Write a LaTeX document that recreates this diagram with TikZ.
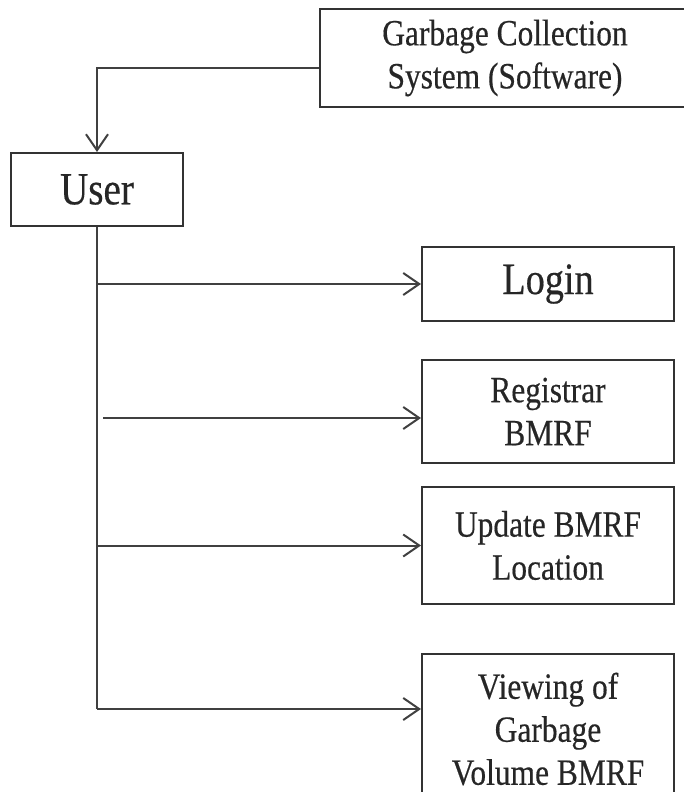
\documentclass[tikz,border=0pt]{standalone}
\usepackage{fontspec}
\setmainfont{Liberation Serif}[FakeStretch=0.85, FakeBold=0.4]
\usetikzlibrary{arrows.meta}
\tikzstyle{sysbox} = [rectangle, draw=black!80, line width=2pt,
minimum width=370pt, 
minimum height=98pt,
text centered, align=center, text=black!85,
font=\fontsize{37}{43}\selectfont]
\tikzstyle{userbox} = [rectangle, draw=black!80, line width=2pt,
minimum width=172pt, 
minimum height=73pt,
text=black!85,
font=\fontsize{46}{50}\selectfont]
\tikzstyle{taskbox} = [rectangle, draw=black!80, line width=2pt,
minimum width=252pt, 
text centered, align=center, text=black!85,
font=\fontsize{37}{43}\selectfont]
\tikzstyle{line} = [line width=2pt, draw=black!75]
\tikzstyle{arrow} = [line width=2pt, draw=black!75, -{Straight Barb[length=16pt,width=22pt]}]

\begin{document}
\begin{tikzpicture}[x=1pt, y=1pt]
        \useasboundingbox (0,0) rectangle (684,-792);
        \begin{scope}
        \clip (0,0) rectangle (684,-792);
        \node (sys) [sysbox] at (505,-58) {Garbage Collection\\System (Software)};
        \node (user) [userbox] at (97,-189.5) {User};
        \node (login) [taskbox, minimum height=74pt, font=\fontsize{45}{48}\selectfont] at (548,-284) {Login};
        \node (reg) [taskbox, minimum height=103pt] at (548,-411.5) {Registrar\\BMRF};
        \node (upd) [taskbox, minimum height=117pt] at (548,-545.5) {Update BMRF\\Location};
        \node (view) [taskbox, minimum height=150pt, anchor=north] at (548,-653) {Viewing of\\Garbage\\Volume BMRF};
        \coordinate (regstart) at (103,-418);
        \coordinate (corner) at (97,-709);
        \draw [arrow] ([yshift=-10pt]sys.west) -| (user.north);
        \draw [line] (user.south) -- (corner);
        \draw [arrow] (user.south |- login.west) -- (login.west);
        \draw [arrow] (regstart) -- (regstart -| reg.west);
        \draw [arrow] (user.south |- upd.west) -- (upd.west);
        \draw [arrow] (corner) -- (corner -| view.west);
        \end{scope}
    \end{tikzpicture}
\end{document}
